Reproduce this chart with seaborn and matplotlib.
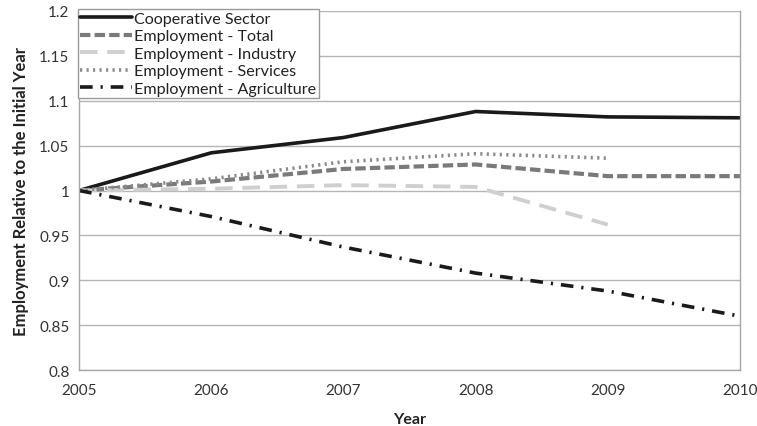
import matplotlib
matplotlib.use("Agg")
import matplotlib.pyplot as plt
import seaborn as sns
import pandas as pd

years = [2005, 2006, 2007, 2008, 2009, 2010]
coop = [1.0, 1.042, 1.059, 1.088, 1.082, 1.081]
emp_total = [1.0, 1.010, 1.024, 1.029, 1.016, 1.016]
emp_industry = [1.0, 1.002, 1.006, 1.004, 0.962]
emp_services = [1.0, 1.013, 1.032, 1.041, 1.036]
emp_agri = [1.0, 0.971, 0.937, 0.908, 0.888, 0.860]
yticks = [0.8, 0.85, 0.9, 0.95, 1.0, 1.05, 1.1, 1.15, 1.2]
ytick_labels = ["0.8", "0.85", "0.9", "0.95", "1", "1.05", "1.1", "1.15", "1.2"]

sns.set_theme(style="white")
plt.rcParams['font.family'] = ['Lato', 'DejaVu Sans']

fig = plt.figure(figsize=(7.57, 4.27), dpi=100)
ax = fig.add_axes([0.1045, 0.131, 0.873, 0.841])

series = [
    ("Cooperative Sector", years, coop, "#1a1a1a", 2.6, "-"),
    ("Employment - Total", years, emp_total, "#7a7a7a", 3.0, (0, (2.5, 1.0))),
    ("Employment - Industry", years[:5], emp_industry, "#cfcfcf", 2.8, (0, (4.5, 2.5))),
    ("Employment - Services", years[:5], emp_services, "#8a8a8a", 2.6, (0, (0.6, 1.2))),
    ("Employment - Agriculture", years, emp_agri, "#1a1a1a", 2.6, (0, (3.5, 2.2, 0.6, 2.2))),
]

for name, xs, ys, color, lw, ls in series:
    df = pd.DataFrame({"Year": xs, "Value": ys})
    sns.lineplot(data=df, x="Year", y="Value", ax=ax, color=color, linewidth=lw,
                 label=name, linestyle=ls)

ax.set_xlim(2005, 2010)
ax.set_ylim(0.8, 1.2)
ax.set_xticks(years)
ax.set_xticklabels([str(y) for y in years], fontsize=11, color="#333333")
ax.set_yticks(yticks)
ax.set_yticklabels(ytick_labels, fontsize=11, color="#333333")
ax.grid(axis="y", color="#b5b5b5", linewidth=1.0)
ax.set_axisbelow(True)
for s in ["left", "bottom", "right"]:
    ax.spines[s].set_color("#a8a8a8")
    ax.spines[s].set_linewidth(1.0)
ax.spines["top"].set_visible(False)
ax.tick_params(axis="both", direction="out", length=4, width=1, color="#a8a8a8", pad=3)
ax.tick_params(axis="x", pad=5)

ax.set_xlabel("Year", fontsize=11.5, fontweight="bold", color="#222222", labelpad=11)
ax.set_ylabel("Employment Relative to the Initial Year", fontsize=12, fontweight="bold",
              color="#222222", labelpad=7)

leg = ax.legend(loc="upper left", bbox_to_anchor=(-0.002, 1.005), borderaxespad=0,
                fontsize=11.6, frameon=True, fancybox=False, handlelength=3.2,
                handletextpad=0.15, labelspacing=0.2, borderpad=0.15)
leg.get_frame().set_edgecolor("#9a9a9a")
leg.get_frame().set_linewidth(1.0)
leg.get_frame().set_facecolor("white")
leg.get_frame().set_alpha(1.0)
for t in leg.get_texts():
    t.set_color("#222222")

fig.savefig("out.png", dpi=100)
